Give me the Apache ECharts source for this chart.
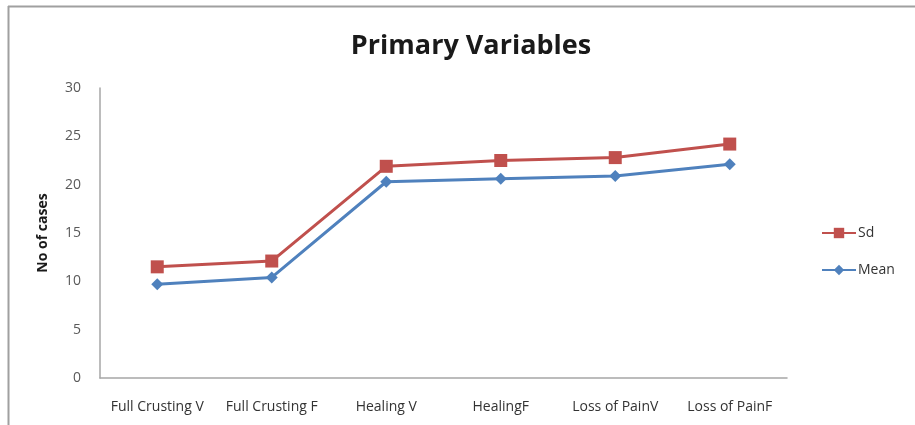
<!DOCTYPE html>
<html>
<head>
<meta charset="utf-8">
<script src="https://cdn.jsdelivr.net/npm/echarts@6/dist/echarts.min.js"></script>
<style>
  html, body { margin: 0; padding: 0; background: #fff; }
  #chart { width: 915px; height: 425px; }
</style>
</head>
<body>
<div id="chart"></div>
<script>
// data
const categories = ['Full Crusting V', 'Full Crusting F', 'Healing V', 'HealingF', 'Loss of PainV', 'Loss of PainF']
const sdValues = [11.5, 12.1, 21.9, 22.5, 22.8, 24.2]
const meanValues = [9.7, 10.4, 20.3, 20.6, 20.9, 22.1]
const yTicks = { min: 0, max: 30, interval: 5 }

const font = '"Open Sans", "Liberation Sans", sans-serif'

const myChart = echarts.init(document.getElementById('chart'))

myChart.setOption({
  animation: false,
  backgroundColor: '#fff',
  title: {
    text: 'Primary Variables',
    left: 466,
    top: 28,
    textAlign: 'center',
    textStyle: { fontFamily: font, fontSize: 27, fontWeight: 'bold', color: '#1a1a1a' }
  },
  // frame lines on top and left, like the cropped border of the original
  graphic: [
    { type: 'line', shape: { x1: 8, y1: 6.5, x2: 915, y2: 6.5 }, style: { stroke: '#a0a0a0', lineWidth: 2 } },
    { type: 'line', shape: { x1: 8.5, y1: 6, x2: 8.5, y2: 425 }, style: { stroke: '#a0a0a0', lineWidth: 2 } }
  ],
  legend: {
    orient: 'vertical',
    left: 816,
    top: 221,
    itemWidth: 34,
    itemHeight: 13,
    itemGap: 23,
    data: ['Sd', 'Mean'],
    textStyle: { fontFamily: font, fontSize: 14, color: '#333', padding: [0, 0, 0, -3] }
  },
  grid: { left: 100, right: 128, top: 88, bottom: 47 },
  xAxis: {
    type: 'category',
    data: categories,
    boundaryGap: true,
    axisLine: { lineStyle: { color: '#a6a6a6', width: 1.5 } },
    axisTick: { show: false },
    axisLabel: { interval: 0, margin: 22, fontFamily: font, fontSize: 14, color: '#333' }
  },
  yAxis: {
    type: 'value',
    min: yTicks.min,
    max: yTicks.max,
    interval: yTicks.interval,
    name: 'No of cases',
    nameLocation: 'middle',
    nameGap: 50,
    nameTextStyle: { fontFamily: font, fontSize: 14, fontWeight: 'bold', color: '#1a1a1a' },
    axisLine: { show: true, lineStyle: { color: '#a6a6a6', width: 1.5 } },
    axisTick: { show: false },
    splitLine: { show: false },
    axisLabel: { margin: 19, fontFamily: font, fontSize: 14, color: '#595959' }
  },
  series: [
    {
      name: 'Sd',
      type: 'line',
      data: sdValues,
      symbol: 'rect',
      symbolSize: 13,
      color: '#c0504d',
      lineStyle: { width: 3, color: '#c0504d' },
      itemStyle: { color: '#c0504d' }
    },
    {
      name: 'Mean',
      type: 'line',
      data: meanValues,
      symbol: 'diamond',
      symbolSize: 12,
      color: '#4f81bd',
      lineStyle: { width: 3, color: '#4f81bd' },
      itemStyle: { color: '#4f81bd' }
    }
  ]
})
</script>
</body>
</html>
